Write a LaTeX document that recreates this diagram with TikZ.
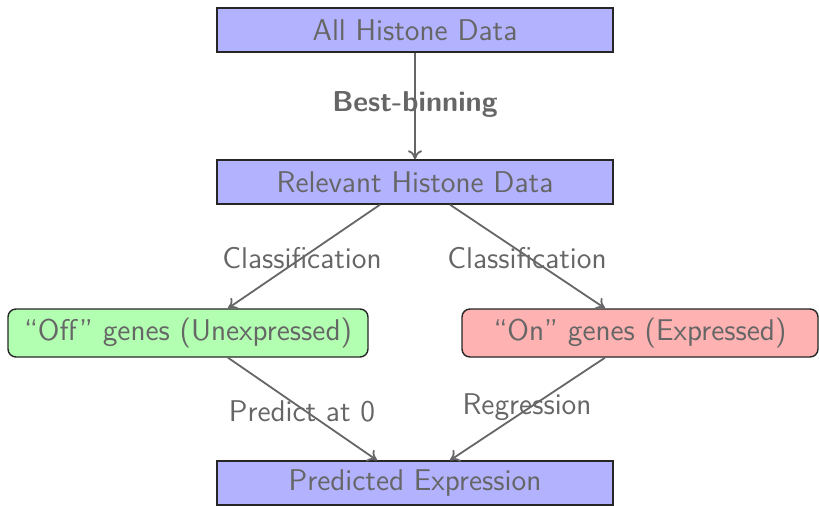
\documentclass[tikz,border=0pt]{standalone}
\usetikzlibrary{arrows.meta}
\begin{document}
\begin{tikzpicture}[x=0.5pt,y=-0.5pt,
  txt/.style={text=black!60,font=\sffamily\fontsize{15}{18}\selectfont},
  sqbox/.style={txt,draw=black!85,line width=0.7pt,fill=blue!30,minimum width=198pt,minimum height=22pt,inner sep=0pt},
  rbox/.style={txt,draw=black!85,line width=0.7pt,rounded corners=4pt,minimum height=24pt,inner sep=0pt},
  arr/.style={draw=black!60,line width=0.9pt,-{To[length=4.5pt,width=7pt]}},
  lbl/.style={txt,inner sep=1pt}]
\useasboundingbox (0,0) rectangle (819,505);
\node[sqbox] (all) at (415,30) {All Histone Data};
\node[sqbox] (rel) at (415,182) {Relevant Histone Data};
\node[rbox,fill=green!30,minimum width=180pt] (off) at (188,333) {``Off'' genes (Unexpressed)};
\node[rbox,fill=red!30,minimum width=178pt] (on) at (640,333) {``On'' genes (Expressed)};
\node[sqbox] (pred) at (415,483) {Predicted Expression};
\draw[arr] (all.south) -- (rel.north);
\node[lbl,font=\sffamily\bfseries\fontsize{14.4}{17}\selectfont] (bb) at (415,104) {Best-binning};
\draw[arr] ([xshift=-17.5pt]rel.south) -- ([xshift=20pt]off.north);
\draw[arr] ([xshift=17.5pt]rel.south) -- ([xshift=-17.5pt]on.north);
\node[lbl] (c1) at (302,258) {Classification};
\node[lbl] (c2) at (527,258) {Classification};
\draw[arr] ([xshift=20pt]off.south) -- ([xshift=-19pt]pred.north);
\draw[arr] ([xshift=-17.5pt]on.south) -- ([xshift=17.5pt]pred.north);
\node[lbl] (p0) at (302,411) {Predict at 0};
\node[lbl] (rg) at (527,407) {Regression};
\end{tikzpicture}
\end{document}
